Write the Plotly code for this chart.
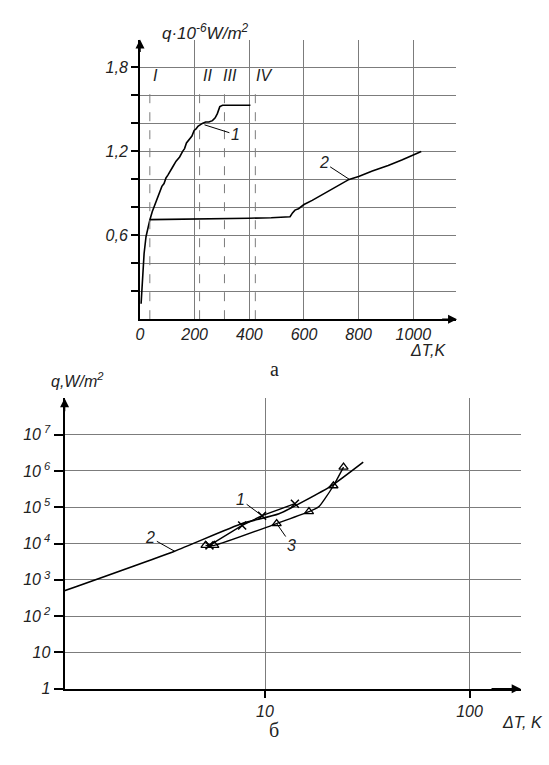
import math
import plotly.graph_objects as go

# ---------------- data: panel a (linear) ----------------
c1_dT = [4, 8, 11, 15, 22, 30, 36, 45, 55, 65, 72, 80, 88, 95, 102, 110, 120, 132, 145, 156, 163, 170, 181, 190, 198, 205, 212, 219, 228, 240, 252, 265, 275, 283, 292, 302, 350, 404]
c1_q = [0.11, 0.25, 0.35, 0.47, 0.59, 0.67, 0.71, 0.77, 0.82, 0.87, 0.91, 0.95, 0.97, 1.01, 1.03, 1.06, 1.09, 1.13, 1.16, 1.20, 1.22, 1.26, 1.29, 1.31, 1.35, 1.36, 1.38, 1.39, 1.40, 1.41, 1.41, 1.42, 1.44, 1.47, 1.52, 1.53, 1.53, 1.53]

c2_dT = [36, 100, 220, 300, 400, 480, 520, 549, 558, 567, 580, 600, 630, 665, 700, 730, 765, 800, 850, 908, 960, 1029]
c2_q = [0.712, 0.713, 0.716, 0.719, 0.722, 0.726, 0.728, 0.733, 0.76, 0.78, 0.79, 0.82, 0.85, 0.89, 0.93, 0.96, 1.00, 1.02, 1.06, 1.10, 1.14, 1.20]

regions_dT = [36, 218, 309, 422]
region_names = ["I", "II", "III", "IV"]
region_label_dT = [55, 247, 331, 455]

a_xticks = [0, 200, 400, 600, 800, 1000]
a_yticks = [0.2, 0.4, 0.6, 0.8, 1.0, 1.2, 1.4, 1.6, 1.8]
a_ylabels = ["", "", "0,6", "", "", "1,2", "", "", "1,8"]

# ---------------- data: panel b (log-log) ----------------
l2_dT = [1.045, 3.61, 7.73, 11.7, 21.1, 30.2]
l2_q = [500, 6160, 35500, 66000, 388000, 1.74e6]

l1_dT = [5.35, 7.73, 9.67, 14.0]
l1_q = [8900, 31400, 58400, 125000]

l3_dT = [5.12, 5.65, 11.4, 16.4, 18.3, 19.6, 21.6, 24.2]
l3_q = [8900, 8900, 35500, 75400, 102000, 170000, 390000, 1.27e6]
l3_marked = [True, True, True, True, False, False, True, True]

b_yticks = [1, 10, 1e2, 1e3, 1e4, 1e5, 1e6, 1e7]
b_ylabels = ["1", "10", "10<sup> 2</sup>", "10<sup> 3</sup>", "10<sup> 4</sup>",
             "10<sup> 5</sup>", "10<sup> 6</sup>", "10<sup> 7</sup>"]
b_xticks = [10, 100]
b_xlabels = ["10", "100"]

W, H = 549, 765
GRID = "#7c7c7c"
FONT = "Liberation Sans"
FS = 16

fig = go.Figure()

# panel a curves
fig.add_trace(go.Scatter(x=c1_dT, y=c1_q, mode="lines", line=dict(color="black", width=1.6),
                         xaxis="x", yaxis="y", showlegend=False))
fig.add_trace(go.Scatter(x=c2_dT, y=c2_q, mode="lines", line=dict(color="black", width=1.6),
                         xaxis="x", yaxis="y", showlegend=False))
# dashed region boundaries
dx, dy = [], []
for v in regions_dT:
    dx += [v, v, None]
    dy += [0, 1.62, None]
fig.add_trace(go.Scatter(x=dx, y=dy, mode="lines", line=dict(color=GRID, width=1, dash="dash"),
                         xaxis="x", yaxis="y", showlegend=False))

# panel b curves
fig.add_trace(go.Scatter(x=l2_dT, y=l2_q, mode="lines", line=dict(color="black", width=1.6, shape="spline", smoothing=0.5),
                         xaxis="x2", yaxis="y2", showlegend=False))
fig.add_trace(go.Scatter(x=l1_dT, y=l1_q, mode="lines+markers", line=dict(color="black", width=1.4),
                         marker=dict(symbol="x-thin", size=8, line=dict(color="black", width=1.5)),
                         xaxis="x2", yaxis="y2", showlegend=False))
fig.add_trace(go.Scatter(x=l3_dT, y=l3_q, mode="lines", line=dict(color="black", width=1.4, shape="spline", smoothing=0.6),
                         xaxis="x2", yaxis="y2", showlegend=False))
fig.add_trace(go.Scatter(x=[d for d, m in zip(l3_dT, l3_marked) if m],
                         y=[q for q, m in zip(l3_q, l3_marked) if m],
                         mode="markers",
                         marker=dict(symbol="triangle-up-open", size=8, color="black", line=dict(color="black", width=1.3)),
                         xaxis="x2", yaxis="y2", showlegend=False))

tickfont = dict(family=FONT, size=FS, color="#222", style="italic")

fig.update_layout(
    width=W, height=H, autosize=False,
    margin=dict(l=0, r=0, t=0, b=0),
    paper_bgcolor="white", plot_bgcolor="white",
    hovermode=False,
    xaxis=dict(domain=[137 / W, 455 / W], range=[0, 1155], tickvals=a_xticks,
               ticktext=[str(v) for v in a_xticks], ticks="", showgrid=True, gridcolor=GRID, gridwidth=1,
               showline=True, linecolor="black", linewidth=2, zeroline=False, tickfont=tickfont,
               anchor="y", fixedrange=True),
    yaxis=dict(domain=[(H - 323) / H, (H - 40) / H], range=[0, 2.0], tickvals=a_yticks,
               ticktext=a_ylabels, ticks="outside", ticklen=7, tickcolor="black", tickwidth=1.5,
               showgrid=True, gridcolor=GRID, gridwidth=1, showline=True, linecolor="black",
               linewidth=2, zeroline=False, tickfont=tickfont, anchor="x", fixedrange=True),
    xaxis2=dict(domain=[61 / W, 520.5 / W], type="log", range=[0.02, 2.25], tickvals=b_xticks,
                ticktext=b_xlabels, ticks="outside", ticklen=7, tickcolor="black", tickwidth=1.5,
                showgrid=True, gridcolor=GRID, gridwidth=1, showline=True, linecolor="black",
                linewidth=2, zeroline=False, tickfont=tickfont, anchor="y2", fixedrange=True),
    yaxis2=dict(domain=[(H - 697) / H, (H - 403) / H], type="log", range=[0, 8.0], tickvals=b_yticks,
                ticktext=b_ylabels, ticks="outside", ticklen=9, tickcolor="black", tickwidth=1.5,
                showgrid=True, gridcolor=GRID, gridwidth=1, showline=True, linecolor="black",
                linewidth=2, zeroline=False, tickfont=tickfont, anchor="x2", fixedrange=True),
)

ann = []
lf = dict(family=FONT, size=FS, color="#222", style="italic")

# axis arrows panel a
ann.append(dict(x=0, y=2.0, ax=0, ay=1.9, xref="x", yref="y", axref="x", ayref="y",
                showarrow=True, arrowhead=2, arrowsize=1.2, arrowwidth=1.5, arrowcolor="black", text=""))
ann.append(dict(x=1160, y=0, ax=1100, ay=0, xref="x", yref="y", axref="x", ayref="y",
                showarrow=True, arrowhead=2, arrowsize=1.2, arrowwidth=1.5, arrowcolor="black", text=""))
# axis arrows panel b
ann.append(dict(x=0.02, y=8.0, ax=0.02, ay=7.6, xref="x2", yref="y2", axref="x2", ayref="y2",
                showarrow=True, arrowhead=2, arrowsize=1.2, arrowwidth=1.5, arrowcolor="black", text=""))
ann.append(dict(x=2.25, y=0, ax=2.1, ay=0, xref="x2", yref="y2", axref="x2", ayref="y2",
                showarrow=True, arrowhead=2, arrowsize=1.2, arrowwidth=1.5, arrowcolor="black", text=""))

# region labels
for name, xv in zip(region_names, region_label_dT):
    ann.append(dict(x=xv, y=1.74, xref="x", yref="y", text=name, showarrow=False, font=lf))

# curve labels panel a
ann.append(dict(x=236, y=1.39, ax=349, ay=1.32, xref="x", yref="y", axref="x", ayref="y",
                text="1", showarrow=True, arrowhead=0, arrowwidth=1, arrowcolor="black", font=lf))
ann.append(dict(x=766, y=1.0, ax=672, ay=1.12, xref="x", yref="y", axref="x", ayref="y",
                text="2", showarrow=True, arrowhead=0, arrowwidth=1, arrowcolor="black", font=lf))

# curve labels panel b (log axes: annotation coords are log10)
def lg(v):
    return math.log10(v)

ann.append(dict(x=lg(9.67), y=lg(58400), ax=lg(7.6), ay=lg(1.6e5), xref="x2", yref="y2", axref="x2", ayref="y2",
                text="1", showarrow=True, arrowhead=0, arrowwidth=1, arrowcolor="black", font=lf))
ann.append(dict(x=lg(3.61), y=lg(6160), ax=lg(2.75), ay=lg(14500), xref="x2", yref="y2", axref="x2", ayref="y2",
                text="2", showarrow=True, arrowhead=0, arrowwidth=1, arrowcolor="black", font=lf))
ann.append(dict(x=lg(11.4), y=lg(35500), ax=lg(13.5), ay=lg(9000), xref="x2", yref="y2", axref="x2", ayref="y2",
                text="3", showarrow=True, arrowhead=0, arrowwidth=1, arrowcolor="black", font=lf))

# titles
ann.append(dict(x=157 / W, y=1 - 19 / H, xref="paper", yref="paper", showarrow=False,
                text="q·10<sup>-6</sup>W/m<sup>2</sup>", font=dict(family=FONT, size=17, color="#222", style="italic")))
ann.append(dict(x=447 / W, y=1 - 355 / H, xref="paper", yref="paper", showarrow=False, xanchor="right",
                text="ΔT,K", font=lf))
ann.append(dict(x=272 / W, y=1 - 373 / H, xref="paper", yref="paper", showarrow=False,
                text="а", font=dict(family="Liberation Serif", size=20, color="#222")))
ann.append(dict(x=45 / W, y=1 - 385 / H, xref="paper", yref="paper", showarrow=False,
                text="q,W/m<sup>2</sup>", font=lf))
ann.append(dict(x=545 / W, y=1 - 742 / H, xref="paper", yref="paper", showarrow=False, xanchor="right",
                text="ΔT, K", font=lf))
ann.append(dict(x=272 / W, y=1 - 752 / H, xref="paper", yref="paper", showarrow=False,
                text="б", font=dict(family="Liberation Serif", size=20, color="#222")))

fig.update_layout(annotations=ann)
fig.write_html("out.html", config={"displayModeBar": False},
               post_script="document.body.style.margin='0';document.body.style.overflow='hidden';")
